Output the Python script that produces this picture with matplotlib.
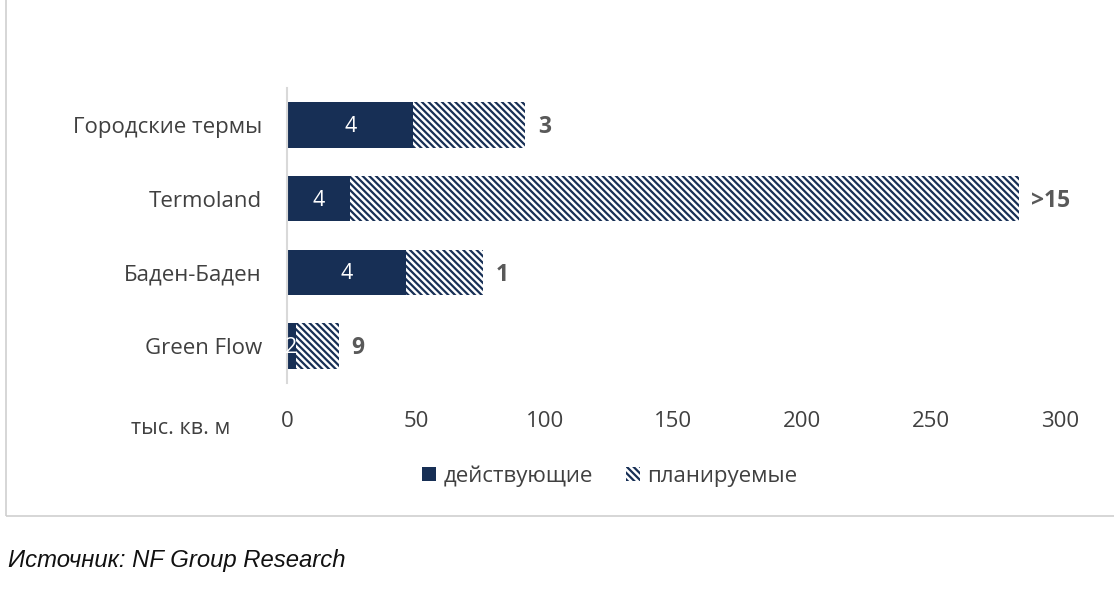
import matplotlib
matplotlib.use("Agg")
import matplotlib.pyplot as plt
from matplotlib.patches import Rectangle, Patch

plt.rcParams['font.family'] = ['Open Sans', 'DejaVu Sans']
plt.rcParams['hatch.linewidth'] = 1.6

categories = ["Городские термы", "Termoland", "Баден-Баден", "Green Flow"]
existing = [49, 24.5, 46, 3.5]
planned = [43.5, 259.5, 30, 16.5]
existing_labels = ["4", "4", "4", "2"]
planned_labels = ["3", ">15", "1", "9"]
xticks = [0, 50, 100, 150, 200, 250, 300]
legend_labels = ["действующие", "планируемые"]

dark = "#172f55"
text_gray = "#404040"
label_gray = "#595959"
HATCH = "\\" * 5

fig = plt.figure(figsize=(11.14, 5.89), dpi=100)
ax = fig.add_axes([287/1114, 1-383/589, (1060-287)/1114, 295/589])

y = list(range(len(categories)))
ax.barh(y, existing, height=0.62, color=dark, linewidth=0)
ax.barh(y, planned, left=existing, height=0.62, color="white", edgecolor=dark,
        hatch=HATCH, linewidth=0)

for i in y:
    ax.text(existing[i] / 2, i + 0.02, existing_labels[i], ha="center", va="center",
            color="white", fontsize=15.5)
    ax.annotate(planned_labels[i], xy=(existing[i] + planned[i], i + 0.03),
                xytext=(9, 0), textcoords="offset points", ha="left", va="center",
                color=label_gray, fontsize=16.5, fontweight="bold")

ax.set_xlim(0, 300)
ax.set_ylim(len(categories) - 0.5, -0.5)
ax.set_yticks(y)
ax.set_yticklabels(categories, fontsize=16, color=text_gray)
ax.set_xticks(xticks)
ax.set_xticklabels([str(t) for t in xticks], fontsize=16, color=text_gray)
ax.tick_params(axis="x", length=0, pad=20)
ax.tick_params(axis="y", length=0, pad=18)
for s in ["top", "right", "bottom"]:
    ax.spines[s].set_visible(False)
ax.spines["left"].set_color("#d9d9d9")
ax.spines["left"].set_linewidth(1.5)

fig.text(181/1114, 1-428/589, "тыс. кв. м", ha="center", va="center",
         fontsize=15.5, color=text_gray)

handles = [Patch(facecolor=dark, edgecolor=dark, linewidth=0),
           Patch(facecolor="white", edgecolor=dark, hatch=HATCH, linewidth=0)]
fig.legend(handles, legend_labels, loc="center", bbox_to_anchor=(610/1114, 1-476/589),
           ncol=2, frameon=False, fontsize=16, handlelength=0.6, handleheight=0.6,
           handletextpad=0.35, columnspacing=1.5, labelcolor=text_gray)

fig.patches.append(Rectangle((6/1114, 1-516/589), 1.2, 1.0, transform=fig.transFigure,
                             fill=False, edgecolor="#cfcfcf", linewidth=1.2))

fig.text(8/1114, 1-560/589, "Источник: NF Group Research", ha="left", va="center",
         fontsize=17.2, style="italic", family=["Liberation Sans", "DejaVu Sans"],
         color="#111111")

fig.savefig("out.png", dpi=100)
